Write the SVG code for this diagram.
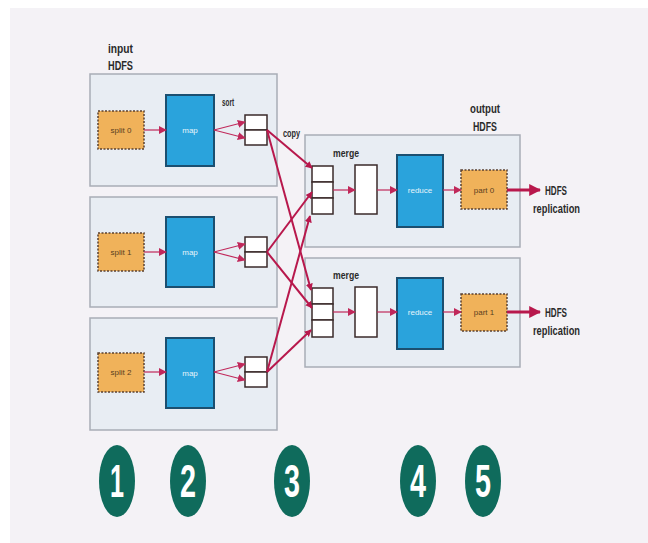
<svg xmlns="http://www.w3.org/2000/svg" width="648" height="543" viewBox="0 0 648 543">
<defs>
<style>
.lbl{font-family:"Liberation Sans Narrow","Liberation Sans",sans-serif;font-weight:bold;fill:#2a2a2a;}
.small{font-size:10px;}
.head{font-size:13px;}
.grp{fill:#e8edf3;stroke:#a8adb6;stroke-width:1.5;}
.split{fill:#f0b25a;stroke:#5a4030;stroke-width:1.5;stroke-dasharray:2 1.5;}
.map{fill:#2aa3dc;stroke:#1b4f70;stroke-width:2;}
.cell{fill:#ffffff;stroke:#3a2a2a;stroke-width:1.5;}
.in{font-family:"Liberation Sans Narrow","Liberation Sans",sans-serif;font-size:8px;text-anchor:middle;}
.wt{fill:#e6f4fb;}
.bn{fill:#5a4020;}
.thin{stroke:#c0285a;stroke-width:1.2;fill:none;}
.cp{stroke:#b8184c;stroke-width:2;fill:none;}
.thick{stroke:#b8184c;stroke-width:3;fill:none;}
.num{fill:#0f6b5c;}
.nt{font-family:"Liberation Sans Narrow","Liberation Sans",sans-serif;font-weight:bold;font-size:46px;fill:#ffffff;text-anchor:middle;}
</style>
<marker id="ah" viewBox="0 0 10 10" refX="9" refY="5" markerWidth="7" markerHeight="7" markerUnits="userSpaceOnUse" orient="auto"><path d="M0,0 L10,5 L0,10 z" fill="#b8184c"/></marker>
<marker id="ahs" viewBox="0 0 10 10" refX="9" refY="5" markerWidth="8" markerHeight="8" markerUnits="userSpaceOnUse" orient="auto"><path d="M0,0 L10,5 L0,10 z" fill="#c0285a"/></marker>
<marker id="ahb" viewBox="0 0 10 10" refX="9" refY="5" markerWidth="12" markerHeight="12" markerUnits="userSpaceOnUse" orient="auto"><path d="M0,0 L10,5 L0,10 z" fill="#b8184c"/></marker>
</defs>
<rect x="0" y="0" width="648" height="543" fill="#ffffff"/>
<rect x="10" y="8" width="638" height="535" fill="#f4f2f6"/>

<text class="lbl head" x="108" y="53" textLength="25" lengthAdjust="spacingAndGlyphs">input</text>
<text class="lbl head" x="108" y="70" textLength="25" lengthAdjust="spacingAndGlyphs">HDFS</text>
<text class="lbl head" x="470" y="113" textLength="30" lengthAdjust="spacingAndGlyphs">output</text>
<text class="lbl head" x="473" y="131" textLength="24" lengthAdjust="spacingAndGlyphs">HDFS</text>

<g id="input1">
<rect class="grp" x="90" y="74" width="187" height="112"/>
<g id="split0"><rect class="split" x="98" y="111" width="46" height="38"/><text class="in bn" x="121" y="133">split 0</text></g>
<g id="map0"><rect class="map" x="166" y="95" width="48" height="71"/><text class="in wt" x="190" y="133">map</text></g>
<text class="lbl small" x="222" y="106" textLength="12" lengthAdjust="spacingAndGlyphs">sort</text>
<g id="sort0"><rect class="cell" x="245" y="115" width="22" height="15"/><rect class="cell" x="245" y="130" width="22" height="15"/></g>
</g>

<g id="input2">
<rect class="grp" x="90" y="197" width="187" height="110"/>
<g id="split1"><rect class="split" x="98" y="233" width="46" height="38"/><text class="in bn" x="121" y="255">split 1</text></g>
<g id="map1"><rect class="map" x="166" y="217" width="48" height="70"/><text class="in wt" x="190" y="255">map</text></g>
<g id="sort1"><rect class="cell" x="245" y="237" width="22" height="15"/><rect class="cell" x="245" y="252" width="22" height="15"/></g>
</g>

<g id="input3">
<rect class="grp" x="90" y="318" width="187" height="112"/>
<g id="split2"><rect class="split" x="98" y="353" width="46" height="39"/><text class="in bn" x="121" y="375">split 2</text></g>
<g id="map2"><rect class="map" x="166" y="338" width="48" height="70"/><text class="in wt" x="190" y="376">map</text></g>
<g id="sort2"><rect class="cell" x="245" y="357" width="22" height="15"/><rect class="cell" x="245" y="372" width="22" height="15"/></g>
</g>

<g id="output1">
<rect class="grp" x="305" y="135" width="215" height="112"/>
<text class="lbl small" x="333" y="157" textLength="26" lengthAdjust="spacingAndGlyphs">merge</text>
<g id="cells0"><rect class="cell" x="312" y="166" width="21" height="16"/><rect class="cell" x="312" y="182" width="21" height="16"/><rect class="cell" x="312" y="198" width="21" height="16"/></g>
<g id="merge0"><rect class="cell" x="355" y="165" width="22" height="49"/></g>
<g id="reduce0"><rect class="map" x="397" y="155" width="46" height="72"/><text class="in wt" x="420" y="193">reduce</text></g>
<g id="part0"><rect class="split" x="461" y="170" width="46" height="39"/><text class="in bn" x="484" y="193">part 0</text></g>
</g>

<g id="output2">
<rect class="grp" x="305" y="258" width="215" height="109"/>
<text class="lbl small" x="333" y="279" textLength="26" lengthAdjust="spacingAndGlyphs">merge</text>
<g id="cells1"><rect class="cell" x="312" y="288" width="21" height="16"/><rect class="cell" x="312" y="304" width="21" height="16"/><rect class="cell" x="312" y="320" width="21" height="17"/></g>
<g id="merge1"><rect class="cell" x="355" y="287" width="22" height="50"/></g>
<g id="reduce1"><rect class="map" x="397" y="278" width="46" height="71"/><text class="in wt" x="420" y="315">reduce</text></g>
<g id="part1"><rect class="split" x="461" y="294" width="46" height="37"/><text class="in bn" x="484" y="315">part 1</text></g>
</g>

<text class="lbl small" x="283" y="137" textLength="17" lengthAdjust="spacingAndGlyphs">copy</text>
<text class="lbl head" x="545" y="195" textLength="22" lengthAdjust="spacingAndGlyphs">HDFS</text>
<text class="lbl head" x="533" y="213" textLength="47" lengthAdjust="spacingAndGlyphs">replication</text>
<text class="lbl head" x="545" y="317" textLength="22" lengthAdjust="spacingAndGlyphs">HDFS</text>
<text class="lbl head" x="533" y="335" textLength="47" lengthAdjust="spacingAndGlyphs">replication</text>

<g id="connectors">
<line class="thin" x1="144" y1="130" x2="166" y2="130" marker-end="url(#ahs)"/>
<line class="thin" x1="144" y1="252" x2="166" y2="252" marker-end="url(#ahs)"/>
<line class="thin" x1="144" y1="372" x2="166" y2="372" marker-end="url(#ahs)"/>
<line class="thin" x1="214" y1="130" x2="245" y2="122" marker-end="url(#ahs)"/>
<line class="thin" x1="214" y1="130" x2="245" y2="138" marker-end="url(#ahs)"/>
<line class="thin" x1="214" y1="252" x2="245" y2="244" marker-end="url(#ahs)"/>
<line class="thin" x1="214" y1="252" x2="245" y2="260" marker-end="url(#ahs)"/>
<line class="thin" x1="214" y1="372" x2="245" y2="364" marker-end="url(#ahs)"/>
<line class="thin" x1="214" y1="372" x2="245" y2="380" marker-end="url(#ahs)"/>

<line class="cp" x1="267" y1="130" x2="312" y2="168" marker-end="url(#ah)"/>
<line class="cp" x1="267" y1="130" x2="311" y2="290" marker-end="url(#ah)"/>
<line class="cp" x1="267" y1="252" x2="312" y2="192" marker-end="url(#ah)"/>
<line class="cp" x1="267" y1="252" x2="312" y2="308" marker-end="url(#ah)"/>
<line class="cp" x1="267" y1="372" x2="310" y2="216" marker-end="url(#ah)"/>
<line class="cp" x1="267" y1="372" x2="311" y2="330" marker-end="url(#ah)"/>

<line class="thin" x1="333" y1="190" x2="355" y2="190" marker-end="url(#ahs)"/>
<line class="thin" x1="377" y1="190" x2="397" y2="190" marker-end="url(#ahs)"/>
<line class="thin" x1="443" y1="190" x2="461" y2="190" marker-end="url(#ahs)"/>
<line class="thick" x1="507" y1="190" x2="540" y2="190" marker-end="url(#ahb)"/>
<line class="thin" x1="333" y1="312" x2="355" y2="312" marker-end="url(#ahs)"/>
<line class="thin" x1="377" y1="312" x2="397" y2="312" marker-end="url(#ahs)"/>
<line class="thin" x1="443" y1="312" x2="461" y2="312" marker-end="url(#ahs)"/>
<line class="thick" x1="507" y1="312" x2="540" y2="312" marker-end="url(#ahb)"/>
</g>

<g id="step1"><ellipse class="num" cx="117" cy="481" rx="18" ry="36"/><text class="nt" x="117" y="497" textLength="14" lengthAdjust="spacingAndGlyphs">1</text></g>
<g id="step2"><ellipse class="num" cx="188" cy="481" rx="18" ry="36"/><text class="nt" x="188" y="497" textLength="16" lengthAdjust="spacingAndGlyphs">2</text></g>
<g id="step3"><ellipse class="num" cx="292" cy="481" rx="18" ry="36"/><text class="nt" x="292" y="497" textLength="16" lengthAdjust="spacingAndGlyphs">3</text></g>
<g id="step4"><ellipse class="num" cx="418" cy="481" rx="18" ry="36"/><text class="nt" x="418" y="497" textLength="16" lengthAdjust="spacingAndGlyphs">4</text></g>
<g id="step5"><ellipse class="num" cx="483" cy="481" rx="18" ry="36"/><text class="nt" x="483" y="497" textLength="16" lengthAdjust="spacingAndGlyphs">5</text></g>
</svg>
